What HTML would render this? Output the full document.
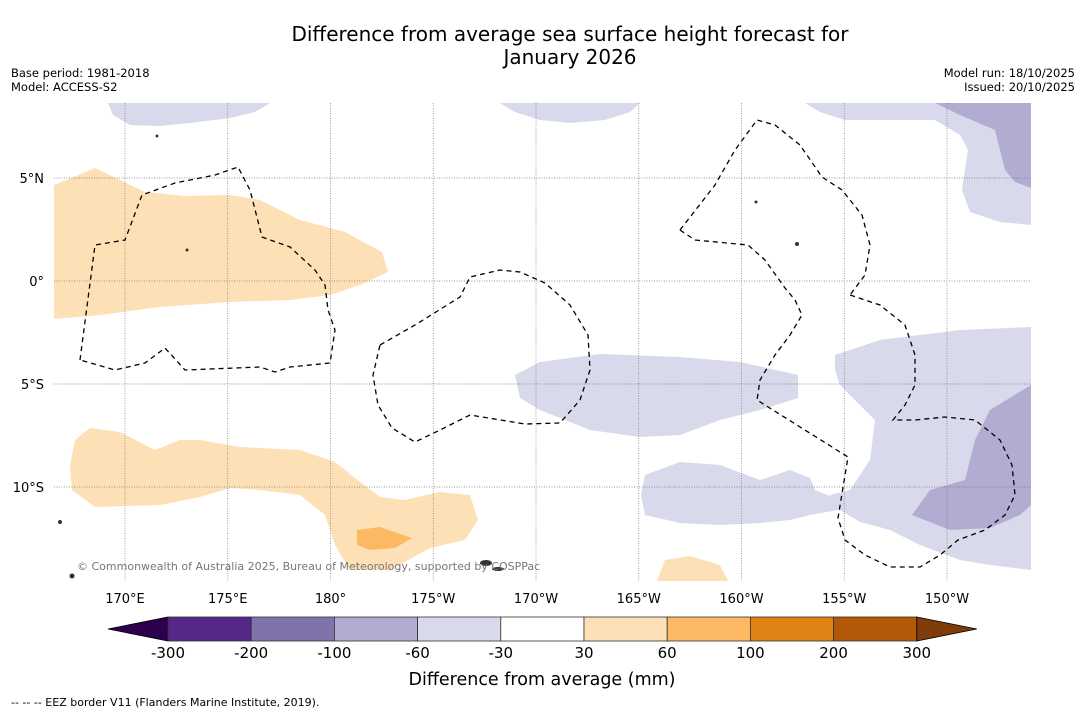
<!DOCTYPE html>
<html><head><meta charset="utf-8"><style>
body{margin:0;background:#fff;font-family:"Liberation Sans","DejaVu Sans",sans-serif;}
svg text{font-family:"DejaVu Sans","Liberation Sans",sans-serif;}
</style></head><body>
<svg id="c" width="1085" height="713" xmlns="http://www.w3.org/2000/svg">
<rect width="1085" height="713" fill="#fff"/>
<text x="570" y="41" font-size="20" text-anchor="middle">Difference from average sea surface height forecast for</text>
<text x="570" y="64" font-size="20" text-anchor="middle">January 2026</text>
<text x="11" y="77" font-size="11.5">Base period: 1981-2018</text>
<text x="11" y="91" font-size="11.5">Model: ACCESS-S2</text>
<text x="1075" y="77" font-size="11.5" text-anchor="end">Model run: 18/10/2025</text>
<text x="1075" y="91" font-size="11.5" text-anchor="end">Issued: 20/10/2025</text>
<g id="map">
<clipPath id="mc"><rect x="54" y="103" width="977" height="478"/></clipPath>
<g clip-path="url(#mc)">
<polygon fill="#fee0b6" points="54,185 95,168 145,192 185,196 230,195 260,200 300,220 345,232 382,252 388,272 360,285 330,295 290,300 230,302 160,307 100,315 54,319"/>
<polygon fill="#fee0b6" points="75,440 90,428 120,432 155,450 180,440 200,440 240,447 300,450 335,462 355,478 380,497 405,500 440,492 470,495 478,520 465,540 430,548 390,570 350,570 335,545 325,515 300,495 260,490 230,488 200,497 160,505 95,507 72,490 70,465"/>
<polygon fill="#fdb863" points="357,530 380,527 412,538 395,548 370,550 357,545"/>
<polygon fill="#fee0b6" points="657,581 665,560 690,556 720,565 728,581"/>
<polygon fill="#d8daeb" points="108,103 270,103 255,112 230,118 190,123 160,126 130,125 113,115"/>
<polygon fill="#d8daeb" points="500,103 640,103 630,112 605,120 570,123 540,120 515,112"/>
<polygon fill="#d8daeb" points="805,103 1031,103 1031,225 1000,222 970,212 962,190 968,150 960,135 935,120 880,120 845,120 820,112"/>
<polygon fill="#b2abd2" points="935,103 1031,103 1031,188 1015,182 1005,170 995,130 960,115"/>
<polygon fill="#d8daeb" points="515,375 540,362 600,354 680,357 740,362 798,375 798,398 760,410 720,420 680,435 640,437 590,430 540,410 520,398"/>
<polygon fill="#d8daeb" points="835,355 880,340 960,330 1031,327 1031,570 990,565 960,560 920,545 890,530 860,522 840,510 830,495 850,490 870,460 875,420 855,400 840,385 835,370"/>
<polygon fill="#d8daeb" points="645,475 680,462 720,465 760,480 790,470 810,478 815,490 840,500 838,510 810,515 790,520 760,523 720,525 680,523 645,515 641,495"/>
<polygon fill="#b2abd2" points="1031,385 990,410 975,440 965,480 930,490 912,515 950,530 990,528 1020,515 1031,505"/>
</g>
<g id="grid" stroke="#777" stroke-width="0.7" stroke-dasharray="1,1.5"></g>
<g fill="none" stroke="#000" stroke-width="1.3" stroke-dasharray="5,4">
<polyline points="80,360 95,245 125,240 142,195 175,183 215,175 238,167 250,190 262,237 290,247 315,270 325,285 328,310 335,330 330,363 290,367 275,372 260,367 185,370 165,348 145,363 115,370 80,360"/>
<polyline points="380,345 415,325 460,297 470,277 500,270 520,272 545,283 570,305 588,335 590,370 580,400 560,423 525,424 470,415 440,430 415,442 392,428 378,405 373,375 380,345"/>
<polyline points="680,230 715,185 735,150 757,120 775,125 800,145 822,177 842,190 862,215 870,245 865,275 850,295"/>
<polyline points="680,230 695,240 748,245 765,260 785,288 795,300 802,315 790,335 775,355 760,380 757,400 848,457 838,518 845,540 865,555 890,567 920,567 940,555 958,540 985,530 1005,515 1015,495 1012,465 1000,440 975,420 945,417 915,420 893,420 905,405 915,385 915,355 905,325 880,305 850,295"/>
</g>
<g fill="#333">
<circle cx="60" cy="522" r="2"/><circle cx="72" cy="576" r="2.5"/><ellipse cx="486" cy="563" rx="6" ry="3"/><ellipse cx="498" cy="569" rx="6" ry="2"/><circle cx="157" cy="136" r="1.5"/><circle cx="187" cy="250" r="1.5"/><circle cx="797" cy="244" r="2"/><circle cx="756" cy="202" r="1.5"/>
</g>
<text x="77" y="570" font-size="11" fill="#777">© Commonwealth of Australia 2025, Bureau of Meteorology, supported by COSPPac</text>
<g id="axl" font-size="13"></g>
</g>
<g id="cbar"></g>
<text x="542" y="685" font-size="17.5" text-anchor="middle">Difference from average (mm)</text>
<text x="11" y="706" font-size="11">--  --  -- EEZ border V11 (Flanders Marine Institute, 2019).</text>
</svg>
<script>
const lonLabels=["170°E","175°E","180°","175°W","170°W","165°W","160°W","155°W","150°W"];
const lonValues=[170,175,180,185,190,195,200,205,210];
const latLabels=["5°N","0°","5°S","10°S"];
const latValues=[5,0,-5,-10];
const cbColors=["#542788","#8073ac","#b2abd2","#d8daeb","#ffffff","#fee0b6","#fdb863","#e08214","#b35806"];
const cbTicks=["-300","-200","-100","-60","-30","30","60","100","200","300"];
const NS="http://www.w3.org/2000/svg";
const xLon=v=>125+(v-170)*20.55;
const yLat=v=>281-v*20.6;
const grid=document.getElementById('grid'),axl=document.getElementById('axl'),cb=document.getElementById('cbar');
function mk(t,a,p){const e=document.createElementNS(NS,t);for(const k in a)e.setAttribute(k,a[k]);p.appendChild(e);return e;}
lonValues.forEach((v,i)=>{const x=xLon(v);
 const l=mk('line',{x1:x,x2:x,y1:103,y2:581},grid);
 
 
 const t=mk('text',{x:x,y:603,'text-anchor':'middle'},axl);t.textContent=lonLabels[i];
 
 });
latValues.forEach((v,i)=>{const y=yLat(v);
 const l=mk('line',{x1:54,x2:1031,y1:y,y2:y},grid);
 
 
 const t=mk('text',{x:44,y:y+5,'text-anchor':'end'},axl);t.textContent=latLabels[i];
 
 });
const cx0=168,cw=83.2,cy=617,ch=24;
const tl=mk('polygon',{points:`108,629 ${cx0},${cy} ${cx0},${cy+ch}`,fill:'#2d004b',stroke:'#000','stroke-width':0.8},cb);


cbColors.forEach((c,i)=>{const r=mk('rect',{x:cx0+i*cw,y:cy,width:cw,height:ch,fill:c,stroke:'#333','stroke-width':0.8},cb);
 
 });
const xe=cx0+cbColors.length*cw;
const tr=mk('polygon',{points:`${xe},${cy} ${xe+60},629 ${xe},${cy+ch}`,fill:'#7f3b08',stroke:'#000','stroke-width':0.8},cb);


cbTicks.forEach((s,i)=>{const t=mk('text',{x:cx0+i*cw,y:658,'text-anchor':'middle','font-size':15},cb);t.textContent=s;
 
 });
</script>
</body></html>
